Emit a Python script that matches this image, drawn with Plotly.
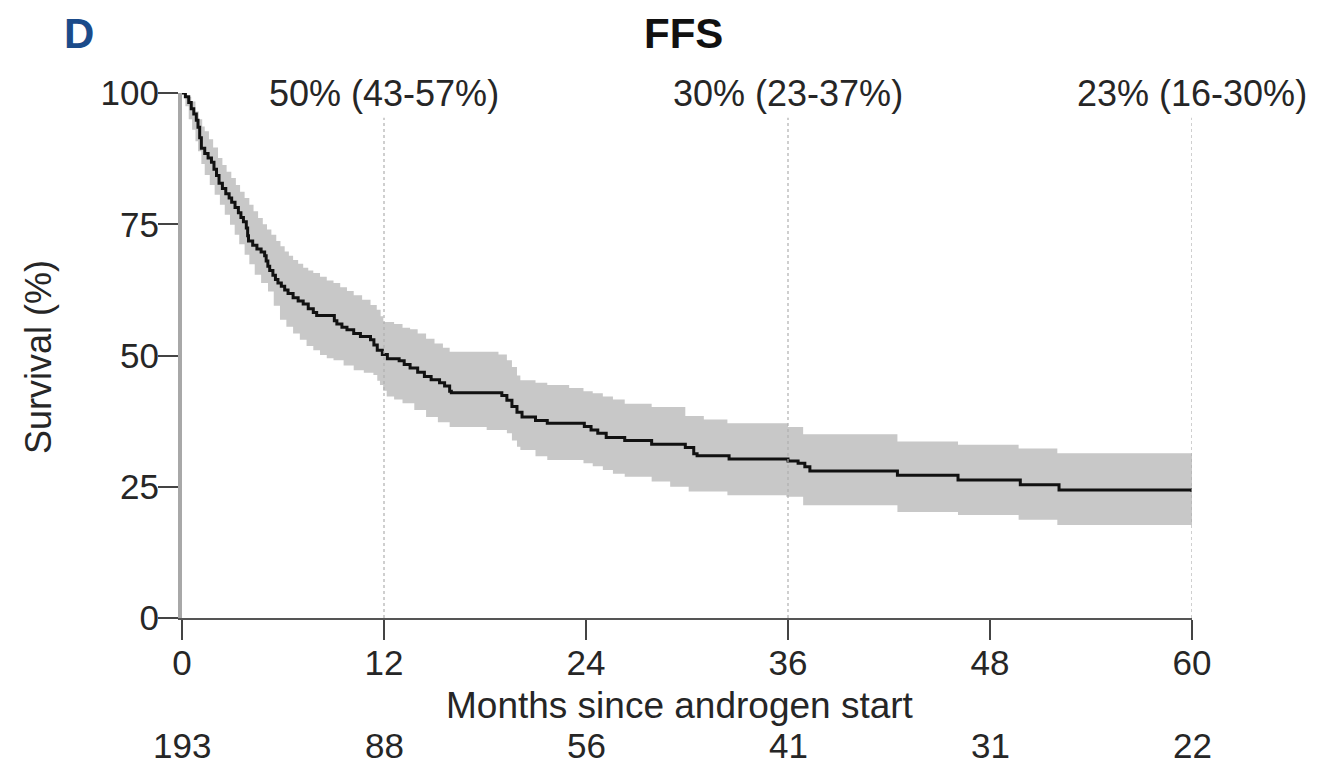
import plotly.graph_objects as go

# Kaplan-Meier estimate (step times in months, survival %)
km_time = [0, 0.2, 0.4, 0.55, 0.7, 0.85, 0.95, 1.05, 1.15, 1.35, 1.55, 1.75, 1.9, 2.05, 2.2, 2.4,
           2.6, 2.8, 2.95, 3.15, 3.35, 3.5, 3.65, 3.82, 3.9, 3.95, 4.2, 4.45, 4.7, 4.91, 5.0, 5.1,
           5.21, 5.4, 5.55, 5.7, 5.9, 6.1, 6.3, 6.6, 6.9, 7.2, 7.5, 7.8, 8.0, 9.05, 9.2, 9.5, 9.8,
           10.2, 10.6, 11.2, 11.4, 11.6, 11.9, 12.2, 12.9, 13.2, 13.55, 14.0, 14.4, 14.8, 15.3,
           15.6, 15.9, 16.0, 19.0, 19.3, 19.6, 19.9, 20.2, 21.0, 21.7, 23.9, 24.3, 24.7, 25.2,
           26.3, 27.9, 29.9, 30.4, 30.6, 32.5, 36.0, 36.6, 37.0, 37.3, 42.5, 46.1, 49.8, 52.1, 60]
km_surv = [100, 99.3, 98.2, 97, 96, 94.8, 93.5, 91.5, 89.5, 88.5, 87.6, 86.8, 85.5, 84.3, 82.8, 81.8,
           80.8, 80, 79.2, 78.2, 77.2, 76.3, 75.5, 74.3, 72.8, 71.8, 71, 70.3, 69.7, 69, 68, 67,
           66.2, 65.3, 64.5, 63.8, 63.2, 62.5, 61.8, 61, 60.4, 59.8, 58.9, 58.2, 57.6, 56.6, 56, 55.4, 54.9,
           54.2, 53.6, 53, 52, 51, 50.2, 49.4, 49, 48.3, 47.6, 46.8, 46.0, 45.4, 44.8,
           44.2, 43.2, 42.9, 42.4, 41.5, 40.3, 39.2, 38.3, 37.6, 37.1, 36.5, 35.8, 35.2, 34.4,
           33.8, 33.1, 32.5, 31.3, 30.9, 30.3, 29.9, 29.5, 28.8, 28.0, 27.2, 26.3, 25.4, 24.4, 24.0]

# 95% confidence band (upper)
ciu_time = [0, 0.3, 0.55, 0.8, 1.0, 1.2, 1.35, 1.6, 1.85, 2.14, 2.4, 2.65, 2.93, 3.2, 3.45, 3.72,
            4.0, 4.25, 4.52, 4.8, 5.05, 5.31, 5.6, 5.85, 6.1, 6.35, 6.6, 6.9, 7.2, 7.5, 7.8, 8.2,
            8.6, 9.0, 9.4, 9.8, 10.2, 10.7, 11.2, 11.57, 11.8, 11.96, 12.6, 13.1, 13.55, 14.0,
            14.5, 15.0, 15.5, 15.9, 18.8, 19.3, 19.6, 19.9, 20.1, 21.0, 21.7, 23.0, 23.85, 24.4,
            25.0, 25.6, 26.3, 27.9, 29.9, 31.0, 32.4, 36.0, 36.9, 42.5, 46.1, 49.7, 52.0, 60]
ciu_val = [100, 99.3, 98.4, 96.5, 95, 93.6, 92.7, 91.2, 89.6, 87.6, 86.3, 85, 83.8, 82.5, 81.2, 80,
           78.7, 77.5, 76.2, 75, 74, 73, 71.8, 70.8, 69.8, 69, 68.2, 67.5, 66.7, 66.2, 65.7, 65,
           64.3, 63.8, 63, 62.3, 61.5, 60.6, 59.6, 58.7, 57.5, 56.4, 56, 55.3, 55.0, 54.2,
           53.2, 52.3, 51.5, 50.7, 50.2, 49.1, 47.8, 46.2, 45.3, 44.8, 44.4, 43.8, 43.2, 42.8,
           42.2, 41.6, 40.8, 40.2, 38.5, 37.8, 37.1, 36.4, 35.0, 33.6, 33.0, 32.3, 31.4, 31.4]

# 95% confidence band (lower)
cil_time = [0, 0.2, 0.4, 0.6, 0.8, 0.95, 1.15, 1.35, 1.65, 1.94, 2.25, 2.54, 2.85, 3.13, 3.4, 3.72,
            4.0, 4.32, 4.7, 5.11, 5.45, 5.82, 6.2, 6.6, 7.0, 7.4, 7.8, 8.2, 8.6, 9.0, 9.6, 10.2,
            10.8, 11.37, 11.6, 11.76, 11.95, 12.16, 12.6, 13.1, 13.8, 14.5, 15.2, 15.9, 18.1,
            19.3, 19.6, 19.9, 20.1, 21.0, 21.7, 23.85, 24.4, 25.0, 25.6, 26.3, 27.9, 29.0, 30.1,
            32.4, 35.9, 36.9, 42.5, 46.1, 49.7, 52.0, 60]
cil_val = [100, 97.5, 95, 93, 90.8, 88.9, 86.5, 84.4, 82.5, 80.6, 78.7, 76.8, 74.9, 73, 71.2, 69.2,
           67.4, 65.4, 63.8, 62.2, 59.5, 56.8, 55.5, 54.2, 53, 51.8, 51, 50.1, 49.5, 49.1, 48.1, 47.2,
           46.7, 46.3, 45.2, 44.4, 43.3, 42.2, 41.6, 40.9, 39.6, 38.3, 37.3, 36.4, 35.8,
           35.2, 33.8, 32.6, 32, 30.8, 30.1, 29.5, 28.9, 28.2, 27.5, 26.9, 26, 25, 24.1,
           23.4, 23.1, 21.5, 20.2, 19.6, 18.7, 17.7, 17.7]

x_ticks = [0, 12, 24, 36, 48, 60]
y_ticks = [0, 25, 50, 75, 100]
at_risk = [193, 88, 56, 41, 31, 22]
landmark_months = [12, 36, 60]
landmark_labels = ["50% (43-57%)", "30% (23-37%)", "23% (16-30%)"]

# page body has an 8px margin; figure sized to fill the rest of the 1318x765 window
OFF = 8
W, H = 1318, 765
PL, PR, PT, PB = 182, 1192, 93, 618   # plot-area edges in window pixels
pw, ph = PR - PL, PB - PT

def px_x(p):
    return (p - PL) / pw

def px_y(p):
    return (PB - p) / ph

FONT = "Liberation Sans, Arial, sans-serif"
TXT = "#262626"

fig = go.Figure()
fig.add_trace(go.Scatter(x=ciu_time, y=ciu_val, mode="lines", line=dict(width=0, shape="hv"),
                         hoverinfo="skip", showlegend=False))
fig.add_trace(go.Scatter(x=cil_time, y=cil_val, mode="lines", line=dict(width=0, shape="hv"),
                         fill="tonexty", fillcolor="#c8c8c8", hoverinfo="skip", showlegend=False))
fig.add_trace(go.Scatter(x=km_time, y=km_surv, mode="lines",
                         line=dict(color="#111111", width=3, shape="hv"), showlegend=False))

for m, lab in zip(landmark_months, landmark_labels):
    fig.add_shape(type="line", x0=m, x1=m, y0=0, y1=95.3, xref="x", yref="y",
                  line=dict(color="#b0b0b0", width=1.2, dash="dot"), layer="above")
    fig.add_annotation(x=m, y=100, xref="x", yref="y", text=lab, showarrow=False,
                       xanchor="center", yanchor="middle", font=dict(size=36, color=TXT, family=FONT))

for m, n in zip(x_ticks, at_risk):
    fig.add_annotation(x=m, y=px_y(745), xref="x", yref="paper", text=str(n), showarrow=False,
                       xanchor="center", yanchor="middle", font=dict(size=35, color=TXT, family=FONT))

fig.add_annotation(x=px_x(680), y=px_y(705), xref="paper", yref="paper",
                   text="Months since androgen start", showarrow=False,
                   xanchor="center", yanchor="middle", font=dict(size=37, color=TXT, family=FONT))
fig.add_annotation(x=px_x(38), y=px_y(357), xref="paper", yref="paper",
                   text="Survival (%)", textangle=-90, showarrow=False,
                   xanchor="center", yanchor="middle", font=dict(size=36, color=TXT, family=FONT))
fig.add_annotation(x=px_x(683), y=px_y(8), xref="paper", yref="paper",
                   text="<b>FFS</b>", showarrow=False,
                   xanchor="center", yanchor="top", font=dict(size=42, color="#111111", family=FONT))
fig.add_annotation(x=px_x(79), y=px_y(8), xref="paper", yref="paper",
                   text="<b>D</b>", showarrow=False,
                   xanchor="center", yanchor="top", font=dict(size=42, color="#1b4b8a", family=FONT))

fig.update_layout(
    width=W - OFF, height=H - OFF,
    margin=dict(l=PL - OFF, r=W - PR, t=PT - OFF, b=H - PB, pad=0),
    paper_bgcolor="white", plot_bgcolor="white",
    xaxis=dict(range=[0, 60], tickvals=x_ticks, ticktext=[str(v) for v in x_ticks],
               showgrid=False, zeroline=False, showline=True, linecolor="#555555", linewidth=2,
               ticks="outside", ticklen=20, tickwidth=2, tickcolor="#444444", ticklabelstandoff=-7,
               tickfont=dict(size=35, color=TXT, family=FONT)),
    yaxis=dict(range=[0, 100], tickvals=y_ticks, ticktext=[str(v) for v in y_ticks],
               showgrid=False, zeroline=False, showline=True, linecolor="#a8a8a8", linewidth=4,
               ticks="outside", ticklen=20, tickwidth=2, tickcolor="#444444", ticklabelstandoff=-8,
               tickfont=dict(size=35, color=TXT, family=FONT)),
)

fig.write_html("out.html")
